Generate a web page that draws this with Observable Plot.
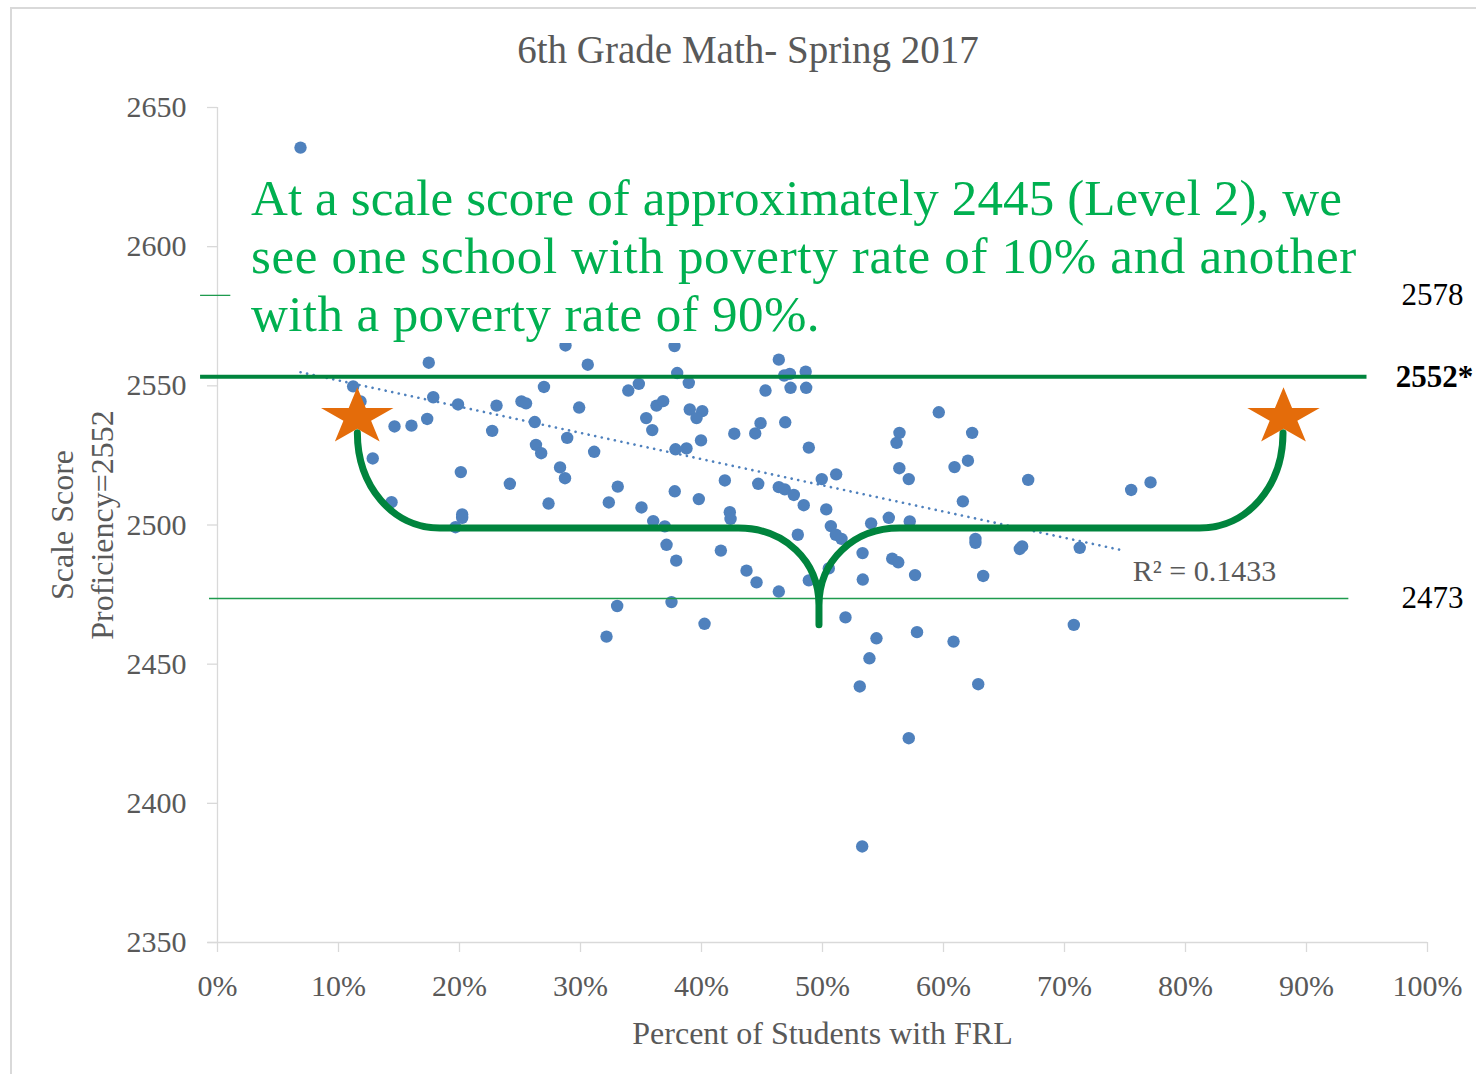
<!DOCTYPE html>
<html><head><meta charset="utf-8">
<script src="https://cdn.jsdelivr.net/npm/d3@7"></script>
<script src="https://cdn.jsdelivr.net/npm/@observablehq/plot@0.6"></script>
<style>
html,body{margin:0;padding:0;background:#fff;}
#wrap{position:relative;width:1476px;height:1074px;overflow:hidden;font-family:"Liberation Serif",serif;}
#frame{position:absolute;left:10px;top:7px;width:1600px;height:1200px;border-left:2px solid #d9d9d9;border-top:2px solid #d9d9d9;}
#chart{position:absolute;left:0;top:0;}
#title{position:absolute;left:0;width:1496px;top:30px;text-align:center;font-size:39px;line-height:1;color:#595959;}
#note{position:absolute;left:240px;top:165px;width:1130px;height:178px;background:#fff;padding:4px 0 0 11px;box-sizing:border-box;color:#00B050;font-size:51px;line-height:58px;white-space:nowrap;}
#note span{display:inline-block;}
</style></head>
<body>
<div id="wrap">
<div id="frame"></div>
<div id="chart"></div>
<div id="title"></div>
<div id="note"></div>
</div>
<script>
// ---- data ----
const titleText = "6th Grade Math- Spring 2017";
const xLabel = "Percent of Students with FRL";
const yLabel = "Scale Score\nProficiency=2552";
const noteLines = [
  "At a scale score of approximately 2445 (Level 2), we",
  "see one school with poverty rate of 10% and another",
  "with a poverty rate of 90%."
];
const xTicks = [0,10,20,30,40,50,60,70,80,90,100];
const xTickLabels = ["0%","10%","20%","30%","40%","50%","60%","70%","80%","90%","100%"];
const yTicks = [2350,2400,2450,2500,2550,2600,2650];
const yTickLabels = ["2350","2400","2450","2500","2550","2600","2650"];

const frl = [6.86,17.46,11.21,11.82,17.83,19.88,23.06,25.12,25.50,26.98,
29.89,14.63,16.03,17.33,22.70,26.22,28.90,12.83,26.32,26.75,
28.31,28.72,20.11,24.16,14.38,27.36,20.22,20.22,19.67,28.76,
37.77,30.60,37.99,38.95,33.95,34.82,46.39,46.83,47.30,48.61,
45.29,47.36,48.65,36.28,36.83,39.03,40.06,39.59,35.43,35.93,
44.88,44.44,46.92,42.71,39.96,37.85,38.76,48.87,31.13,41.93,
44.69,46.39,46.88,47.63,49.94,51.13,33.08,37.79,32.34,39.78,
48.45,35.04,50.31,42.34,42.40,36.01,36.97,50.69,51.10,51.57,
37.11,37.91,41.60,47.96,43.72,44.55,46.39,50.52,48.87,53.31,
53.33,33.03,37.52,40.25,51.90,32.15,54.46,53.88,57.81,53.08,
57.13,53.28,59.61,56.36,56.12,62.37,56.35,57.13,60.91,62.02,
67.00,61.60,54.02,55.48,57.21,55.76,56.26,57.65,62.64,62.64,
66.31,66.50,71.26,63.28,60.83,62.87,70.77,75.51,77.11];
const score = [2635.6,2558.3,2549.8,2544.4,2545.9,2543.3,2542.9,2544.4,2543.7,2549.6,
2542.2,2535.4,2535.7,2538.1,2533.8,2537.0,2531.3,2523.9,2528.8,2525.8,
2520.7,2516.8,2519.0,2514.8,2508.2,2507.7,2503.8,2502.6,2499.2,2564.5,
2564.3,2557.6,2554.6,2551.1,2548.3,2550.7,2559.4,2553.7,2554.3,2555.1,
2548.3,2549.3,2549.3,2542.9,2544.5,2541.5,2540.9,2538.4,2538.4,2534.1,
2536.6,2532.9,2536.9,2532.8,2530.4,2527.2,2527.5,2527.8,2526.3,2516.0,
2514.8,2513.6,2512.8,2510.8,2516.5,2518.2,2513.8,2512.1,2508.1,2509.3,
2507.1,2506.3,2505.6,2504.6,2502.2,2501.4,2499.5,2499.6,2496.5,2495.0,
2492.9,2487.2,2490.8,2496.5,2483.6,2479.4,2476.1,2484.4,2480.1,2489.9,
2480.4,2470.9,2472.3,2464.5,2466.8,2459.9,2459.3,2452.1,2461.5,2442.0,
2423.4,2384.5,2540.5,2533.1,2529.5,2533.1,2520.4,2516.5,2520.8,2523.1,
2516.2,2508.5,2500.6,2502.6,2501.3,2487.9,2486.6,2482.0,2495.0,2493.6,
2491.4,2492.3,2491.8,2481.7,2458.1,2442.8,2464.1,2512.6,2515.3];

// Excel linear trendline end points and R²
const trendFrl = [6.86, 74.9];
const trendScore = [2554.9, 2490.8];
const r2Text = "R² = 0.1433";

// reference levels (labels on the right)
const levelLabels = ["2578", "2552*", "2473"];
const levelScores = [2582.5, 2553.3, 2473.6];

// the two highlighted schools (stars)
const starFrl = [11.55, 88.1];
const starScore = [2538.7, 2538.7];

// ---- build ----
const schools = frl.map((f, i) => ({frl: f, score: score[i]}));
const trend = trendFrl.map((f, i) => ({frl: f, score: trendScore[i]}));
const stars = starFrl.map((f, i) => ({frl: f, score: starScore[i]}));

document.getElementById("title").textContent = titleText;
const note = document.getElementById("note");
const noteWidths = [1091, 1106, 569]; // rendered line widths in the slide
noteLines.forEach((t, i) => {
  const d = document.createElement("div");
  const s = document.createElement("span");
  s.textContent = t;
  d.appendChild(s);
  note.appendChild(d);
  const w = s.getBoundingClientRect().width;
  const ls = (noteWidths[i] - w) / t.length;
  s.style.letterSpacing = ls.toFixed(3) + "px";
});

// a five-pointed star, wider than tall as in the slide
const wideStar = {
  draw(context, size) {
    const R = Math.sqrt(size / Math.PI);
    const inner = R * 0.38197;
    const sx = 1.27;
    for (let i = 0; i < 10; i++) {
      const a = -Math.PI / 2 + i * Math.PI / 5;
      const rr = i % 2 === 0 ? R : inner;
      const px = Math.cos(a) * rr * sx, py = Math.sin(a) * rr;
      if (i === 0) context.moveTo(px, py); else context.lineTo(px, py);
    }
    context.closePath();
  }
};

// curly brace drawn in data coordinates through the plot scales
function braceMark(index, scales) {
  const {x, y} = scales;
  const segs = [
    ["M", 11.6, 2533],
    ["C", 11.6, 2514, 14.5, 2498.7, 18.4, 2498.7],
    ["L", 43.1, 2498.7],
    ["C", 46.9, 2498.7, 49.75, 2487, 49.75, 2471],
    ["L", 49.75, 2464],
    ["L", 49.75, 2471],
    ["C", 49.75, 2487, 52.6, 2498.7, 56.4, 2498.7],
    ["L", 81.2, 2498.7],
    ["C", 85.2, 2498.7, 88.1, 2514, 88.1, 2533]
  ];
  const p = d3.path();
  for (const [cmd, ...v] of segs) {
    const q = [];
    for (let i = 0; i < v.length; i += 2) q.push(x(v[i]), y(v[i + 1]));
    if (cmd === "M") p.moveTo(...q);
    else if (cmd === "L") p.lineTo(...q);
    else p.bezierCurveTo(...q);
  }
  const path = document.createElementNS("http://www.w3.org/2000/svg", "path");
  path.setAttribute("d", p.toString());
  path.setAttribute("fill", "none");
  path.setAttribute("stroke", "#00843D");
  path.setAttribute("stroke-width", "7");
  path.setAttribute("stroke-linecap", "round");
  path.setAttribute("stroke-linejoin", "round");
  return path;
}

const chart = Plot.plot({
  width: 1476,
  height: 1074,
  marginLeft: 217,
  marginRight: 49,
  marginTop: 107,
  marginBottom: 132,
  x: {domain: [0, 100]},
  y: {domain: [2350, 2650]},
  style: {fontFamily: "'Liberation Serif', serif", fontSize: "30px", color: "#595959", background: "transparent", overflow: "visible"},
  marks: [
    Plot.ruleX([0], {y1: 2350, y2: 2650, stroke: "#d9d9d9", strokeWidth: 1.3}),
    Plot.ruleY([2350], {x1: -0.8, x2: 100, stroke: "#d9d9d9", strokeWidth: 1.3}),
    Plot.axisY({ticks: yTicks, tickSize: 10, tickPadding: 21, tickFormat: d => yTickLabels[yTicks.indexOf(d)], stroke: "#d9d9d9", strokeWidth: 1.3, fill: "#595959", fontSize: 30, label: null}),
    Plot.axisX({ticks: xTicks, tickSize: 10, tickPadding: 22, tickFormat: d => xTickLabels[xTicks.indexOf(d)], stroke: "#d9d9d9", strokeWidth: 1.3, fill: "#595959", fontSize: 30, label: null}),
    Plot.dot(schools, {x: "frl", y: "score", r: 6.2, fill: "#4F81BD"}),
    Plot.line(trend, {x: "frl", y: "score", stroke: "#4F81BD", strokeWidth: 2.6, strokeDasharray: "0.1 6.6", strokeLinecap: "round"}),
    Plot.ruleY([levelScores[0]], {x1: -1.4, x2: 1.1, stroke: "#1E9B4E", strokeWidth: 1.3}),
    Plot.ruleY([levelScores[1]], {x1: -1.4, x2: 95.0, stroke: "#00843D", strokeWidth: 4}),
    Plot.ruleY([levelScores[2]], {x1: -0.66, x2: 93.5, stroke: "#1E9B4E", strokeWidth: 1.3}),
    braceMark,
    Plot.dot(stars, {x: "frl", y: "score", r: 30, symbol: wideStar, fill: "#E46C0A"}),
    Plot.text([r2Text], {x: trendFrl[1], y: trendScore[1], text: d => d, dx: 9, dy: 21, textAnchor: "start", fill: "#595959", fontSize: 30}),
    Plot.text([levelLabels[0]], {x: 100, y: levelScores[0], text: d => d, dx: 5, textAnchor: "middle", fill: "#000", fontSize: 31}),
    Plot.text([levelLabels[1]], {x: 100, y: levelScores[1], text: d => d, dx: 7, textAnchor: "middle", fill: "#000", fontSize: 31, fontWeight: "bold"}),
    Plot.text([levelLabels[2]], {x: 100, y: levelScores[2], text: d => d, dx: 5, textAnchor: "middle", fill: "#000", fontSize: 31}),
    Plot.text([xLabel], {frameAnchor: "bottom", dy: 91, lineAnchor: "middle", textAnchor: "middle", text: d => d, fill: "#595959", fontSize: 32}),
    Plot.text([yLabel], {frameAnchor: "left", dx: -137, rotate: -90, textAnchor: "middle", lineAnchor: "middle", text: d => d, lineHeight: 1.22, fill: "#595959", fontSize: 32})
  ]
});
document.getElementById("chart").appendChild(chart);
</script>
</body></html>
